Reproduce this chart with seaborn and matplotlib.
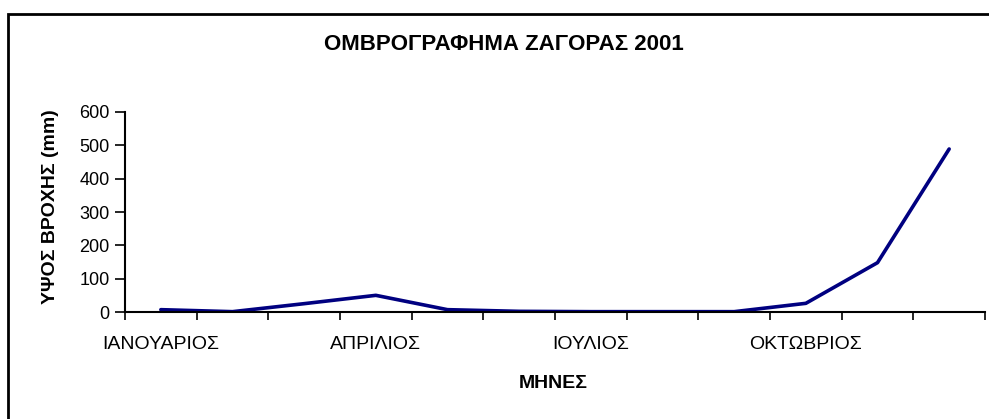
import seaborn as sns
import matplotlib.pyplot as plt
import matplotlib.patches as mpatches
import pandas as pd

# data
minesMera = ["ΙΑΝΟΥΑΡΙΟΣ", "ΦΕΒΡΟΥΑΡΙΟΣ", "ΜΑΡΤΙΟΣ", "ΑΠΡΙΛΙΟΣ", "ΜΑΙΟΣ", "ΙΟΥΝΙΟΣ",
             "ΙΟΥΛΙΟΣ", "ΑΥΓΟΥΣΤΟΣ", "ΣΕΠΤΕΜΒΡΙΟΣ", "ΟΚΤΩΒΡΙΟΣ", "ΝΟΕΜΒΡΙΟΣ", "ΔΕΚΕΜΒΡΙΟΣ"]
ypsosBroxis = [7, 1, 25, 50, 7, 2, 1, 1, 1, 26, 148, 489]
etiketesMinon = ["ΙΑΝΟΥΑΡΙΟΣ", "ΑΠΡΙΛΙΟΣ", "ΙΟΥΛΙΟΣ", "ΟΚΤΩΒΡΙΟΣ"]

df = pd.DataFrame({"minas": range(len(minesMera)), "broxi": ypsosBroxis})

sns.set_style("white")
plt.rcParams['font.family'] = ['Liberation Sans', 'DejaVu Sans']
plt.rcParams['text.color'] = 'black'
plt.rcParams['xtick.color'] = 'black'
plt.rcParams['ytick.color'] = 'black'

W, H = 989, 419
fig = plt.figure(figsize=(W / 100, H / 100), dpi=100)
ax = fig.add_axes([125 / W, 1 - 312 / H, (985 - 125) / W, (312 - 112) / H])

sns.lineplot(data=df, x="minas", y="broxi", color="#000080", linewidth=2.6, ax=ax)

ax.set_xlim(-0.5, 11.5)
ax.set_ylim(0, 600)
ax.set_yticks(range(0, 601, 100))
ax.set_xticks([0, 3, 6, 9])
ax.set_xticklabels(etiketesMinon, fontsize=14)
ax.set_xticks([i - 0.5 for i in range(13)], minor=True)
ax.tick_params(axis='x', which='major', bottom=True, length=0, pad=17)
ax.tick_params(axis='x', which='minor', bottom=True, length=6, width=1.2, direction='out')
ax.tick_params(axis='y', left=True, length=7, width=1.2, direction='out', labelsize=13, pad=4)

for s in ["top", "right"]:
    ax.spines[s].set_visible(False)
for s in ["left", "bottom"]:
    ax.spines[s].set_color("black")
    ax.spines[s].set_linewidth(1.5)

ax.set_xlabel("")
ax.set_ylabel("")
fig.text(51 / W, 1 - 207 / H, "ΥΨΟΣ ΒΡΟΧΗΣ (mm)", rotation=90, fontsize=14,
         fontweight='bold', ha='center', va='center')
fig.text(553 / W, 1 - 383 / H, "ΜΗΝΕΣ", fontsize=14, fontweight='bold',
         ha='center', va='center')
fig.text(504 / W, 1 - 44 / H, "ΟΜΒΡΟΓΡΑΦΗΜΑ ΖΑΓΟΡΑΣ 2001", fontsize=16,
         fontweight='bold', ha='center', va='center')

# outer frame like the original Excel chart area
fig.patches.append(mpatches.Rectangle((8 / W, -0.05), 1.0, 1 - 14 / H + 0.05,
                                      transform=fig.transFigure, fill=False,
                                      edgecolor='black', linewidth=2))

fig.savefig("out.png", dpi=100)
